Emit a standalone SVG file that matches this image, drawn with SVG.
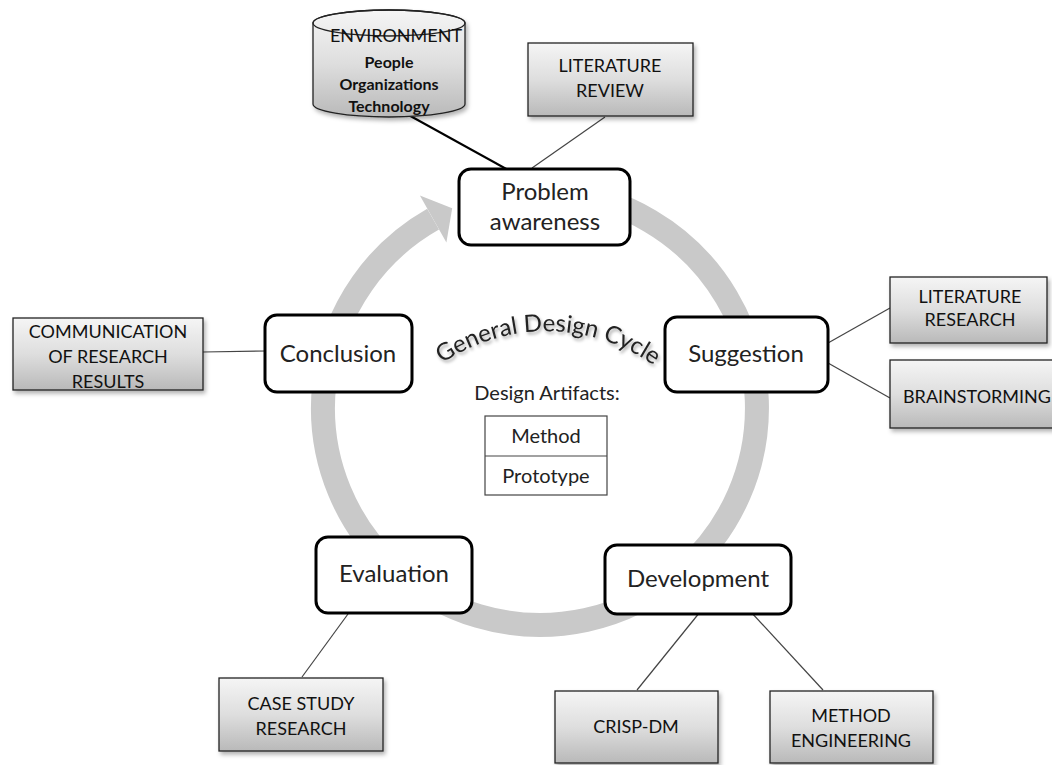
<svg xmlns="http://www.w3.org/2000/svg" width="1052" height="765" viewBox="0 0 1052 765">
<defs>
<linearGradient id="gb" x1="0" y1="0" x2="0" y2="1">
<stop offset="0" stop-color="#f5f5f5"/>
<stop offset="0.5" stop-color="#dedede"/>
<stop offset="1" stop-color="#b9b9b9"/>
</linearGradient>
<filter id="sh" x="-10%" y="-10%" width="125%" height="130%">
<feDropShadow dx="2" dy="3" stdDeviation="2" flood-color="#000" flood-opacity="0.3"/>
</filter>
<filter id="tsh" x="-10%" y="-20%" width="120%" height="150%">
<feDropShadow dx="1.5" dy="2.5" stdDeviation="1.5" flood-color="#000" flood-opacity="0.35"/>
</filter>
<path id="arcText" d="M 440,365 A 185,185 0 0 1 656,367"/>
</defs>
<style>
.node rect{fill:#fff;stroke:#000;stroke-width:3}
.node text{font-family:Lato,"Open Sans",sans-serif;font-size:24px;fill:#222;text-anchor:middle}
.box rect{fill:url(#gb);stroke:#222;stroke-width:1.3;filter:url(#sh)}
.box text{font-family:Lato,"Open Sans",sans-serif;font-size:18px;fill:#111;text-anchor:middle}
.thin{stroke:#444;stroke-width:1.2;fill:none}
.thick{stroke:#000;stroke-width:2;fill:none}
.ctr{font-family:Lato,"Open Sans",sans-serif;fill:#222;text-anchor:middle}
</style>
<rect width="1052" height="765" fill="#fff"/>
<g id="cycle">
<path d="M 558.9,191.8 A 217,217 0 1 1 433.1,219.1" fill="none" stroke="#c9c9c9" stroke-width="24"/>
<polygon points="446.4,242.6 419.9,195.6 452.2,208.3" fill="#c9c9c9"/>
</g>
<g id="connectors">
<line class="thick" x1="405" y1="113" x2="510" y2="171"/>
<line class="thin" x1="605" y1="117" x2="532" y2="168"/>
<line class="thin" x1="828" y1="343" x2="890" y2="308"/>
<line class="thin" x1="828" y1="363" x2="890" y2="398"/>
<line class="thin" x1="203" y1="352" x2="266" y2="351"/>
<line class="thin" x1="348" y1="614" x2="302" y2="677"/>
<line class="thin" x1="700" y1="612" x2="637" y2="690"/>
<line class="thin" x1="750" y1="611" x2="823" y2="690"/>
</g>
<g id="center">
<text class="ctr" font-size="24" filter="url(#tsh)"><textPath href="#arcText" startOffset="50%">General Design Cycle</textPath></text>
<text class="ctr" x="547" y="400" font-size="20">Design Artifacts:</text>
<rect x="485" y="416" width="122" height="79" fill="none" stroke="#444" stroke-width="1.2"/>
<line x1="485" y1="456" x2="607" y2="456" stroke="#444" stroke-width="1.2"/>
<text class="ctr" x="546" y="443" font-size="20">Method</text>
<text class="ctr" x="546" y="483" font-size="20">Prototype</text>
</g>
<g id="environment">
<path d="M313,23 L313,104 A76,13 0 0 0 465,104 L465,23 A76,13 0 0 0 313,23 Z" fill="url(#gb)" stroke="#222" stroke-width="1.3" filter="url(#sh)"/>
<ellipse cx="389" cy="23" rx="76" ry="13" fill="none" stroke="#222" stroke-width="1.3"/>
<text x="396" y="42" font-family="Lato,'Open Sans',sans-serif" font-size="18" fill="#111" text-anchor="middle">ENVIRONMENT</text>
<text x="389" y="68" font-family="Lato,'Open Sans',sans-serif" font-size="16" font-weight="bold" fill="#111" text-anchor="middle">People</text>
<text x="389" y="90" font-family="Lato,'Open Sans',sans-serif" font-size="16" font-weight="bold" fill="#111" text-anchor="middle">Organizations</text>
<text x="389" y="112" font-family="Lato,'Open Sans',sans-serif" font-size="16" font-weight="bold" fill="#111" text-anchor="middle">Technology</text>
</g>
<g id="literature-review" class="box">
<rect x="528" y="43" width="165" height="73"/>
<text x="610" y="72">LITERATURE</text>
<text x="610" y="97">REVIEW</text>
</g>
<g id="literature-research" class="box">
<rect x="890" y="277" width="157" height="66"/>
<text x="970" y="303">LITERATURE</text>
<text x="970" y="326">RESEARCH</text>
</g>
<g id="brainstorming" class="box">
<rect x="890" y="360" width="170" height="68"/>
<text x="977" y="403">BRAINSTORMING</text>
</g>
<g id="communication" class="box">
<rect x="13" y="318" width="190" height="72"/>
<text x="108" y="338">COMMUNICATION</text>
<text x="108" y="363">OF RESEARCH</text>
<text x="108" y="388">RESULTS</text>
</g>
<g id="case-study" class="box">
<rect x="219" y="678" width="164" height="73"/>
<text x="301" y="710">CASE STUDY</text>
<text x="301" y="735">RESEARCH</text>
</g>
<g id="crisp-dm" class="box">
<rect x="555" y="691" width="163" height="72"/>
<text x="636" y="733">CRISP-DM</text>
</g>
<g id="method-engineering" class="box">
<rect x="770" y="691" width="163" height="72"/>
<text x="851" y="722">METHOD</text>
<text x="851" y="747">ENGINEERING</text>
</g>
<g id="problem-awareness" class="node">
<rect x="459" y="169" width="171" height="76" rx="12"/>
<text x="545" y="200">Problem</text>
<text x="545" y="230">awareness</text>
</g>
<g id="suggestion" class="node">
<rect x="665" y="317" width="163" height="75" rx="12"/>
<text x="746" y="362">Suggestion</text>
</g>
<g id="conclusion" class="node">
<rect x="265" y="315" width="147" height="77" rx="12"/>
<text x="338" y="362">Conclusion</text>
</g>
<g id="evaluation" class="node">
<rect x="316" y="537" width="156" height="76" rx="12"/>
<text x="394" y="582">Evaluation</text>
</g>
<g id="development" class="node">
<rect x="605" y="545" width="186" height="69" rx="12"/>
<text x="698" y="587">Development</text>
</g>
</svg>
